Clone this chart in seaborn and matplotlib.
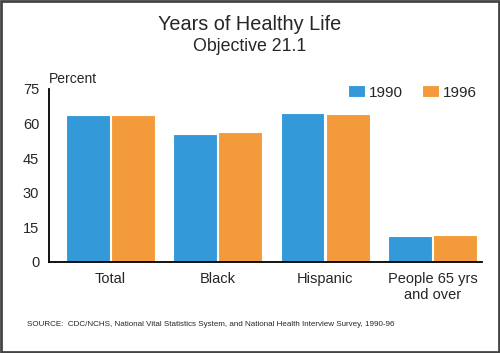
import matplotlib
matplotlib.use("Agg")
import matplotlib.pyplot as plt
import seaborn as sns
import pandas as pd

categories = ["Total", "Black", "Hispanic", "People 65 yrs\nand over"]
years = ["1990", "1996"]
values_1990 = [63.7, 55.6, 64.4, 11.4]
values_1996 = [63.8, 56.2, 64.3, 11.8]
yticks = [0, 15, 30, 45, 60, 75]

df = pd.DataFrame({
    "category": categories * 2,
    "year": [years[0]] * 4 + [years[1]] * 4,
    "value": values_1990 + values_1996,
})

sns.set_style("white")
plt.rcParams["font.family"] = ["Liberation Sans", "DejaVu Sans"]

fig = plt.figure(figsize=(5.0, 3.53), dpi=100)
ax = fig.add_axes([0.098, 0.258, 0.866, 0.49])

palette = {"1990": "#3399D8", "1996": "#F39A3A"}
sns.barplot(data=df, x="category", y="value", hue="year", order=categories,
            hue_order=years, palette=palette, width=0.84, gap=0.03,
            edgecolor="white", linewidth=0.8, saturation=1, ax=ax)

ax.set_ylim(0, 75)
ax.set_xlim(-0.57, 3.46)
ax.set_yticks(yticks)
ax.set_yticklabels([str(t) for t in yticks], fontsize=10.5)
ax.tick_params(axis="y", direction="inout", length=6, width=1.2, color="black", pad=4)
ax.tick_params(axis="x", length=0, labelsize=10.5, pad=7)
ax.set_xlabel("")
ax.set_ylabel("")
for s in ["top", "right"]:
    ax.spines[s].set_visible(False)
for s in ["left", "bottom"]:
    ax.spines[s].set_color("black")
    ax.spines[s].set_linewidth(1.3)

leg = ax.legend(loc="upper right", bbox_to_anchor=(1.02, 1.1), ncol=2, frameon=False,
                fontsize=11, handlelength=1.1, handleheight=0.8, columnspacing=1.3,
                handletextpad=0.25)

fig.text(0.5, 0.93, "Years of Healthy Life", ha="center", va="center", fontsize=14.3)
fig.text(0.5, 0.867, "Objective 21.1", ha="center", va="center", fontsize=12.8)
fig.text(0.098, 0.775, "Percent", ha="left", va="center", fontsize=10)
fig.text(0.054, 0.082, "SOURCE:  CDC/NCHS, National Vital Statistics System, and National Health Interview Survey, 1990-96",
         ha="left", va="center", fontsize=5.75)

border = plt.Rectangle((0.002, 0.003), 0.996, 0.994, transform=fig.transFigure,
                       fill=False, edgecolor="#444444", linewidth=2)
fig.patches.append(border)

fig.savefig("out.png", dpi=100, facecolor="white")
